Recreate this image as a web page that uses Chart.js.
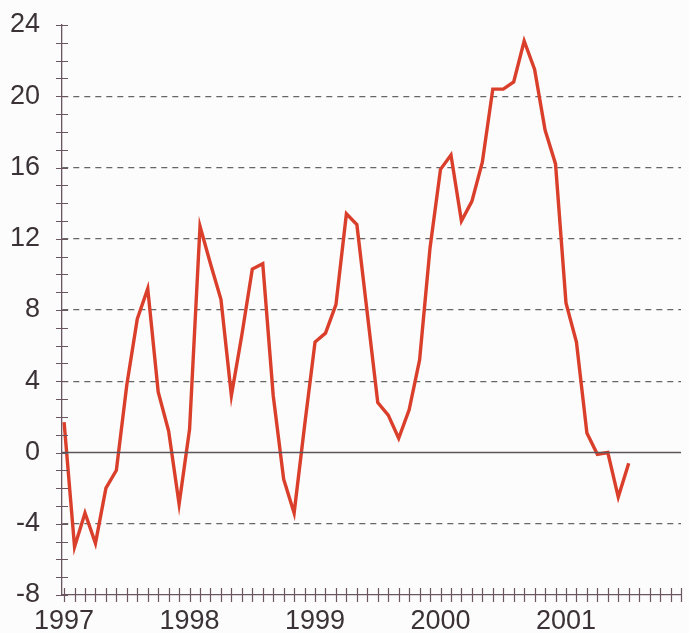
<!DOCTYPE html>
<html>
<head>
<meta charset="utf-8">
<script src="https://cdn.jsdelivr.net/npm/chart.js@4.4.1/dist/chart.umd.min.js"></script>
<style>
  html, body { margin: 0; padding: 0; background: #fcfcfc; }
  #wrap { width: 689px; height: 633px; }
</style>
</head>
<body>
<div id="wrap"><canvas id="chart" width="689" height="633"></canvas></div>
<script>
// monthly values, Jan 1997 .. Jul 2001
const startYear = 1997;
const values = [
  1.7, -5.3, -3.4, -5.1, -2.0, -1.0, 3.8, 7.5, 9.2, 3.4, 1.2, -2.9,   // 1997
  1.3, 12.7, 10.6, 8.6, 3.2, 6.6, 10.3, 10.6, 3.2, -1.5, -3.4, 1.5,   // 1998
  6.2, 6.7, 8.3, 13.4, 12.8, 7.8, 2.8, 2.1, 0.8, 2.4, 5.2, 11.5,      // 1999
  15.9, 16.7, 13.0, 14.1, 16.3, 20.4, 20.4, 20.8, 23.1, 21.5, 18.1, 16.2, // 2000
  8.4, 6.2, 1.1, -0.1, 0.0, -2.5, -0.6                                  // 2001
];
const monthCount = 60; // axis runs to Dec 2001
const yTicks = [-8, -4, 0, 4, 8, 12, 16, 20, 24];

const points = values.map((v, i) => ({ x: i, y: v }));

const axisColor = '#6a5560';
const labelColor = '#3a3236';

// little tick marks that cross the axis line, plus the solid zero line
const crossTicks = {
  id: 'crossTicks',
  afterDraw(chart) {
    const ctx = chart.ctx;
    const xs = chart.scales.x, ys = chart.scales.y;
    const area = chart.chartArea;
    ctx.save();
    // zero line
    ctx.strokeStyle = '#5c5458';
    ctx.lineWidth = 1.3;
    ctx.beginPath();
    ctx.moveTo(area.left, ys.getPixelForValue(0));
    ctx.lineTo(area.right, ys.getPixelForValue(0));
    ctx.stroke();

    ctx.strokeStyle = axisColor;
    ctx.lineWidth = 1.2;
    ctx.beginPath();
    ys.ticks.forEach(t => {
      const y = Math.round(ys.getPixelForValue(t.value)) + 0.5;
      ctx.moveTo(area.left - 6, y);
      ctx.lineTo(area.left + 6, y);
    });
    xs.ticks.forEach(t => {
      const x = Math.round(xs.getPixelForValue(t.value)) + 0.5;
      ctx.moveTo(x, area.bottom - 7);
      ctx.lineTo(x, area.bottom + 7);
    });
    ctx.stroke();
    ctx.restore();
  }
};

new Chart(document.getElementById('chart').getContext('2d'), {
  type: 'line',
  data: {
    datasets: [{
      data: points,
      borderColor: '#da3f2b',
      borderWidth: 3.4,
      pointRadius: 0,
      tension: 0,
      clip: false
    }]
  },
  options: {
    responsive: false,
    animation: false,
    layout: { padding: { top: 25, right: 8, left: 0, bottom: 0 } },
    plugins: { legend: { display: false }, tooltip: { enabled: false } },
    scales: {
      x: {
        type: 'linear',
        min: -0.2,
        max: monthCount - 1,
        afterFit: s => { s.height = 38; s.paddingLeft = 0; s.paddingRight = 0; },
        afterBuildTicks: s => {
          s.ticks = [];
          for (let i = 0; i < monthCount; i++) s.ticks.push({ value: i });
        },
        ticks: {
          autoSkip: false,
          maxRotation: 0,
          padding: 10,
          color: labelColor,
          font: { family: 'Liberation Sans, Arial, sans-serif', size: 27 },
          callback: v => (v % 12 === 0 ? String(startYear + v / 12) : '')
        },
        grid: { drawOnChartArea: false, drawTicks: false },
        border: { color: axisColor, width: 1.3 }
      },
      y: {
        min: -8,
        max: 24,
        afterFit: s => { s.width = 62; s.paddingTop = 0; s.paddingBottom = 0; },
        afterBuildTicks: s => {
          s.ticks = [];
          for (let v = -8; v <= 24; v++) s.ticks.push({ value: v });
        },
        ticks: {
          autoSkip: false,
          padding: 22,
          color: labelColor,
          font: { family: 'Liberation Sans, Arial, sans-serif', size: 27 },
          callback: v => (yTicks.includes(v) ? String(v) : '')
        },
        grid: {
          drawTicks: false,
          lineWidth: 1.3,
          color: c => {
            const v = c.tick ? c.tick.value : null;
            return (v !== null && v % 4 === 0 && v !== 0 && v !== 24 && v !== -8) ? '#666' : 'rgba(0,0,0,0)';
          }
        },
        border: { color: axisColor, width: 1.3, dash: [6, 5] }
      }
    }
  },
  plugins: [crossTicks]
});
</script>
</body>
</html>
